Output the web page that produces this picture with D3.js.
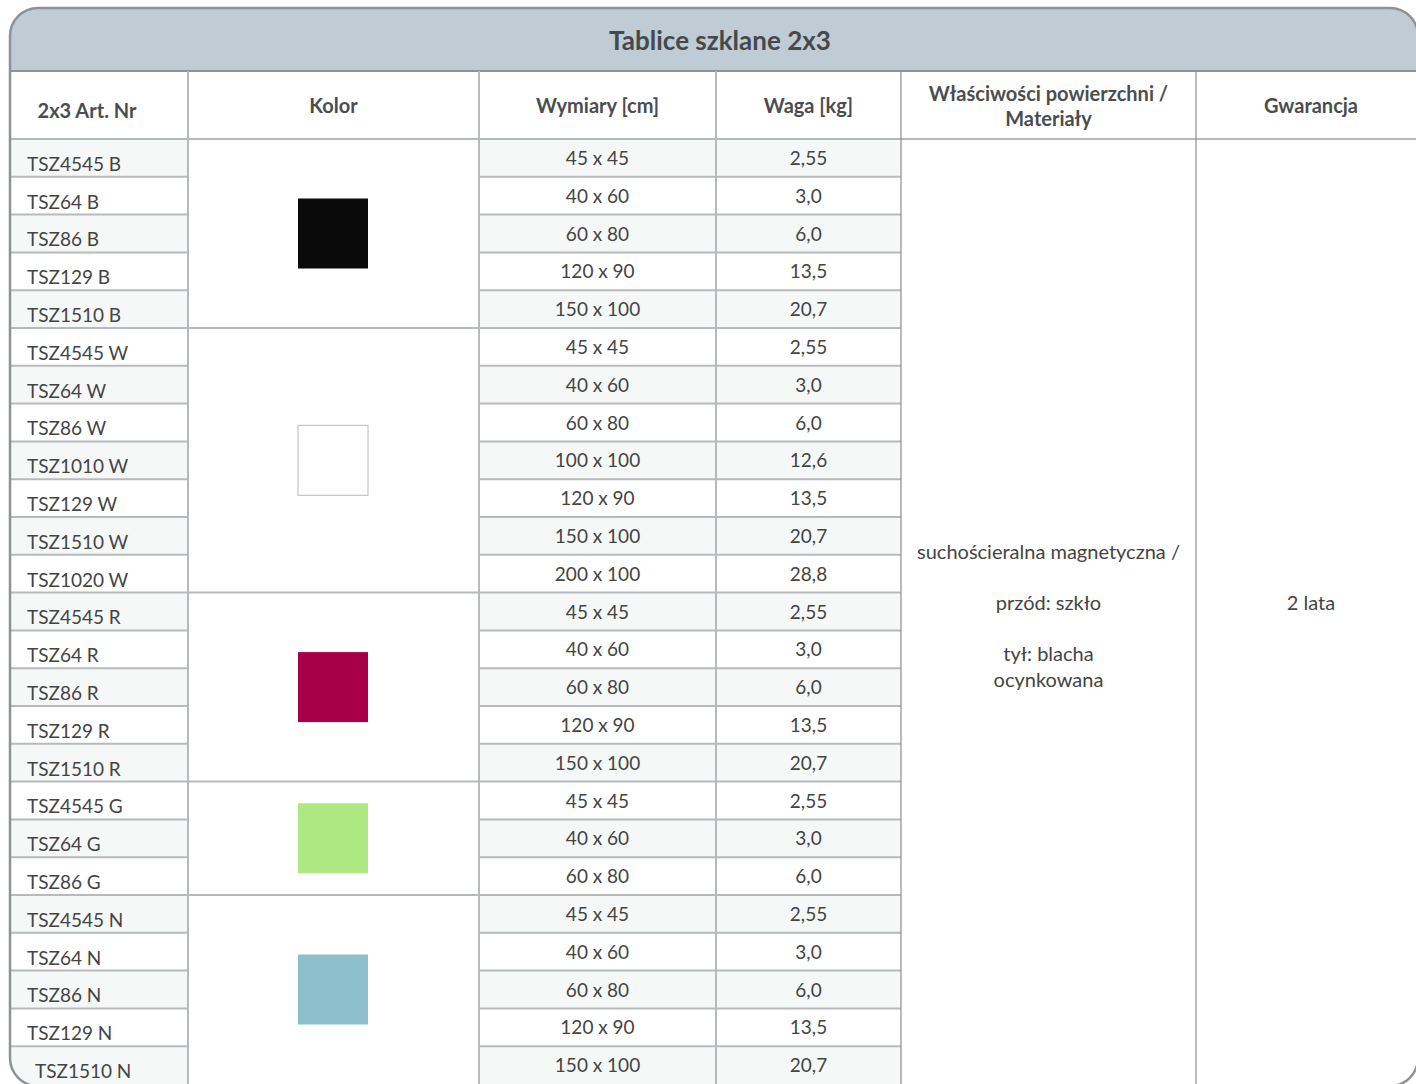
<!DOCTYPE html>
<html><head><meta charset="utf-8">
<script src="https://cdn.jsdelivr.net/npm/d3@7"></script>
<style>
html,body{margin:0;padding:0;background:#fff;}
svg{display:block;}
text{font-family:Lato,"Open Sans",sans-serif;fill:#444;}
</style></head>
<body>
<svg id="chart" width="1416" height="1084"></svg>
<script>
const title = "Tablice szklane 2x3";
const headers = ["2x3 Art. Nr","Kolor","Wymiary [cm]","Waga [kg]","Właściwości powierzchni /|Materiały","Gwarancja"];
const artNr = ["TSZ4545 B","TSZ64 B","TSZ86 B","TSZ129 B","TSZ1510 B",
  "TSZ4545 W","TSZ64 W","TSZ86 W","TSZ1010 W","TSZ129 W","TSZ1510 W","TSZ1020 W",
  "TSZ4545 R","TSZ64 R","TSZ86 R","TSZ129 R","TSZ1510 R",
  "TSZ4545 G","TSZ64 G","TSZ86 G",
  "TSZ4545 N","TSZ64 N","TSZ86 N","TSZ129 N","TSZ1510 N"];
const wymiary = ["45 x 45","40 x 60","60 x 80","120 x 90","150 x 100",
  "45 x 45","40 x 60","60 x 80","100 x 100","120 x 90","150 x 100","200 x 100",
  "45 x 45","40 x 60","60 x 80","120 x 90","150 x 100",
  "45 x 45","40 x 60","60 x 80",
  "45 x 45","40 x 60","60 x 80","120 x 90","150 x 100"];
const waga = ["2,55","3,0","6,0","13,5","20,7",
  "2,55","3,0","6,0","12,6","13,5","20,7","28,8",
  "2,55","3,0","6,0","13,5","20,7",
  "2,55","3,0","6,0",
  "2,55","3,0","6,0","13,5","20,7"];
const colorGroups = ["B","W","R","G","N"];
const groupSizes = [5,7,5,3,5];
const groupColors = ["#0a0a0a","#ffffff","#a80048","#aee882","#8dbfca"];
const properties = ["suchościeralna magnetyczna /","","przód: szkło","","tył: blacha","ocynkowana"];
const gwarancja = "2 lata";

const svg = d3.select("#chart");
const W = 1416, H = 1084;
const box = {x:10, y:8, w:1408, h:1078, r:28};
const titleBottom = 71, headBottom = 139;
const colEdges = [10,188,479,716,901,1196,1426];
const colW = i => colEdges[i+1]-colEdges[i];
const colC = i => (colEdges[i]+colEdges[i+1])/2;

const y = d3.scaleBand().domain(d3.range(artNr.length)).range([headBottom, 1084]);
const rh = y.bandwidth();

const defs = svg.append("defs");
defs.append("clipPath").attr("id","clip").append("rect")
  .attr("x",box.x).attr("y",box.y).attr("width",box.w).attr("height",box.h).attr("rx",box.r);
const g = svg.append("g").attr("clip-path","url(#clip)");

g.append("rect").attr("x",box.x).attr("y",box.y).attr("width",box.w).attr("height",box.h).attr("fill","#fff");
g.append("rect").attr("x",box.x).attr("y",box.y).attr("width",box.w).attr("height",titleBottom-box.y).attr("fill","#bfccd5");

const rows = d3.range(artNr.length);
[[colEdges[0],colEdges[1]],[colEdges[2],colEdges[4]]].forEach(([x1,x2])=>{
  g.selectAll(null).data(rows.filter(i=>i%2===0)).enter().append("rect")
    .attr("x",x1).attr("width",x2-x1)
    .attr("y", i=>y(i)).attr("height", rh).attr("fill","#f6f8f8");
});

const lineColor = "#b7babd";
[[colEdges[0],colEdges[1]],[colEdges[2],colEdges[4]]].forEach(([x1,x2])=>{
  g.selectAll(null).data(rows.slice(1)).enter().append("line")
    .attr("x1",x1).attr("x2",x2).attr("y1",i=>y(i)).attr("y2",i=>y(i))
    .attr("stroke",lineColor).attr("stroke-width",2);
});

const groupStarts = groupSizes.map((s,i)=>d3.sum(groupSizes.slice(0,i)));
g.selectAll(null).data(groupStarts.slice(1)).enter().append("line")
  .attr("x1",colEdges[1]).attr("x2",colEdges[2]).attr("y1",s=>y(s)).attr("y2",s=>y(s))
  .attr("stroke",lineColor).attr("stroke-width",2);

g.append("line").attr("x1",box.x).attr("x2",W+20).attr("y1",titleBottom).attr("y2",titleBottom)
  .attr("stroke","#8e9297").attr("stroke-width",2);
g.append("line").attr("x1",box.x).attr("x2",W+20).attr("y1",headBottom).attr("y2",headBottom)
  .attr("stroke",lineColor).attr("stroke-width",2);

[1,2,3].forEach(i=>{
  g.append("line").attr("x1",colEdges[i]).attr("x2",colEdges[i]).attr("y1",titleBottom).attr("y2",H+10)
    .attr("stroke",lineColor).attr("stroke-width",2);
});
[4,5].forEach(i=>{
  g.append("line").attr("x1",colEdges[i]).attr("x2",colEdges[i]).attr("y1",titleBottom).attr("y2",H+10)
    .attr("stroke","#8a8d90").attr("stroke-width",1.2);
});

g.append("text").attr("x",720).attr("y",50).attr("text-anchor","middle")
  .attr("font-size",26).attr("font-weight",700).style("fill","#45494c").text(title);

headers.forEach((h,i)=>{
  const parts = h.split("|");
  const cx = i===0 ? 87 : colC(i);
  const cy = i===0 ? 111 : 106;
  const t = g.append("text").attr("text-anchor","middle").attr("font-size",20).attr("font-weight",700)
    .style("fill","#4a4d50");
  if(parts.length===1){
    t.attr("x",cx).attr("y",cy+7).text(h);
  } else {
    parts.forEach((p,k)=>t.append("tspan").attr("x",cx).attr("y",cy-12+7+k*25).text(p));
  }
});

g.selectAll(null).data(artNr).enter().append("text")
  .attr("x",(d,i)=> i===artNr.length-1 ? 35 : 27)
  .attr("y",(d,i)=>y(i)+rh-6).attr("font-size",19).text(d=>d);

g.selectAll(null).data(wymiary).enter().append("text")
  .attr("x",colC(2)).attr("y",(d,i)=>y(i)+26).attr("text-anchor","middle").attr("font-size",19).text(d=>d);
g.selectAll(null).data(waga).enter().append("text")
  .attr("x",colC(3)).attr("y",(d,i)=>y(i)+26).attr("text-anchor","middle").attr("font-size",19).text(d=>d);

const sw = 70;
g.selectAll(null).data(colorGroups).enter().append("rect")
  .attr("x", 333 - sw/2)
  .attr("y",(d,i)=>{const top=y(groupStarts[i]); const bot=top+groupSizes[i]*rh; return (top+bot)/2 - sw/2;})
  .attr("width",sw).attr("height",sw)
  .attr("fill",(d,i)=>groupColors[i])
  .attr("stroke",(d,i)=>groupColors[i]==="#ffffff" ? "#b7babd" : "none").attr("stroke-width",1);

const propY = [559,584,610,635,661,687];
properties.forEach((p,k)=>{
  if(!p) return;
  g.append("text").attr("x",colC(4)).attr("y",propY[k]).attr("text-anchor","middle").attr("font-size",20).text(p);
});
g.append("text").attr("x",colC(5)).attr("y",610).attr("text-anchor","middle").attr("font-size",20).text(gwarancja);

svg.append("rect").attr("x",box.x).attr("y",box.y).attr("width",box.w).attr("height",box.h).attr("rx",box.r)
  .attr("fill","none").attr("stroke","#8e9297").attr("stroke-width",2.5);
</script>
</body></html>
